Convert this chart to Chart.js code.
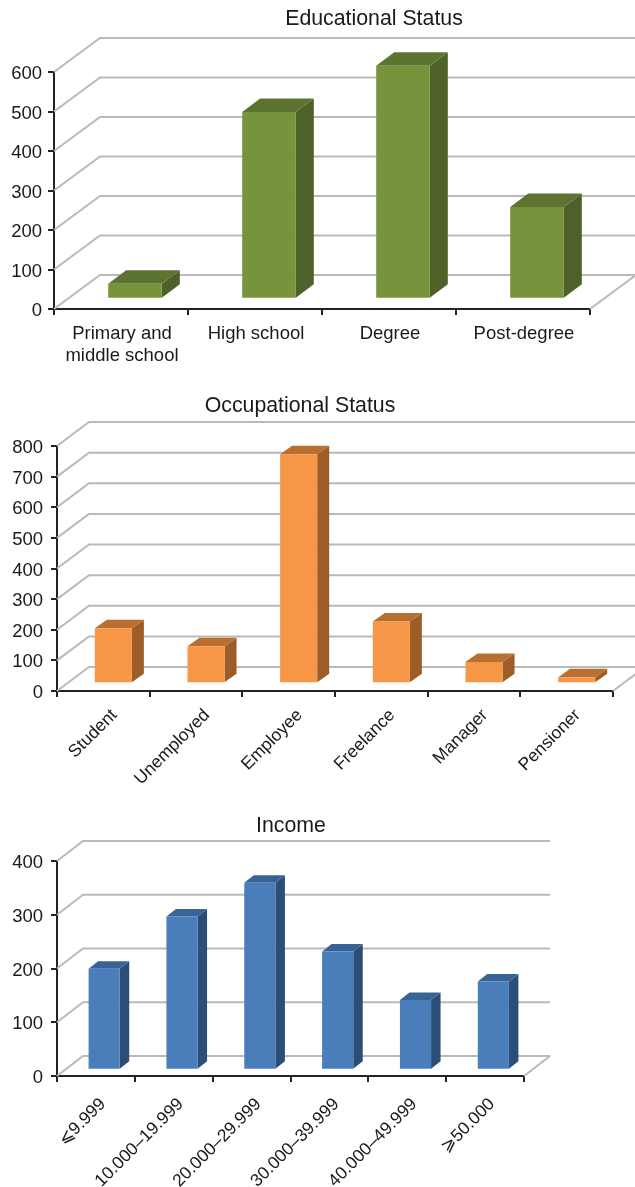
<!DOCTYPE html>
<html>
<head>
<meta charset="utf-8">
<title>Educational status, occupational status and income</title>
<script src="https://cdn.jsdelivr.net/npm/chart.js@4/dist/chart.umd.js"></script>
<style>
  html, body { margin: 0; padding: 0; background: #fff; overflow: hidden; }
  canvas { display: block; }
</style>
</head>
<body>
<canvas id="education" width="635" height="385"></canvas>
<canvas id="occupation" width="635" height="415"></canvas>
<canvas id="income" width="635" height="387"></canvas>
<script>
const educationLabels = [['Primary and', 'middle school'], 'High school', 'Degree', 'Post-degree'];
const educationValues = [38, 473, 590, 232];

const occupationLabels = ['Student', 'Unemployed', 'Employee', 'Freelance', 'Manager', 'Pensioner'];
const occupationValues = [180, 121, 748, 202, 69, 20];

const incomeLabels = ['⩽9.999', '10.000–19.999', '20.000–29.999', '30.000–39.999', '40.000–49.999', '⩾50.000'];
const incomeValues = [188, 285, 348, 220, 130, 164];

const FONT = '"Liberation Sans", Arial, sans-serif';
const AXIS = '#222222';
const GRID = '#b9b9b9';

// fake 3D: back wall, side wall and floor lines, then the depth faces of each bar
const depthPlugin = {
  id: 'depth',
  beforeDatasetsDraw(chart, args, o) {
    const { ctx, chartArea: a, scales: { y } } = chart;
    ctx.save();
    ctx.strokeStyle = GRID;
    ctx.lineWidth = 2;
    y.ticks.forEach((t, i) => {
      const py = y.getPixelForTick(i);
      ctx.beginPath();
      ctx.moveTo(a.left, py);
      ctx.lineTo(a.left + o.wallX, py - o.wallY);
      ctx.lineTo(a.right + o.wallX, py - o.wallY);
      ctx.stroke();
    });
    ctx.beginPath();
    ctx.moveTo(a.right, a.bottom);
    ctx.lineTo(a.right + o.wallX, a.bottom - o.wallY);
    ctx.stroke();

    // bars stand in the middle of the floor
    ctx.translate((o.wallX - o.barX) / 2, -(o.wallY - o.barY) / 2);
    chart.getDatasetMeta(0).data.forEach(bar => {
      const l = bar.x - bar.width / 2, r = bar.x + bar.width / 2;
      ctx.fillStyle = o.sideFace;
      ctx.beginPath();
      ctx.moveTo(r, bar.y);
      ctx.lineTo(r + o.barX, bar.y - o.barY);
      ctx.lineTo(r + o.barX, bar.base - o.barY);
      ctx.lineTo(r, bar.base);
      ctx.closePath();
      ctx.fill();
      ctx.fillStyle = o.topFace;
      ctx.beginPath();
      ctx.moveTo(l, bar.y);
      ctx.lineTo(l + o.barX, bar.y - o.barY);
      ctx.lineTo(r + o.barX, bar.y - o.barY);
      ctx.lineTo(r, bar.y);
      ctx.closePath();
      ctx.fill();
    });
  },
  afterDatasetsDraw(chart) {
    chart.ctx.restore();
  },
  afterDraw(chart, args, o) {
    const { ctx } = chart;
    ctx.save();
    ctx.fillStyle = '#1a1a1a';
    ctx.font = '21.3px ' + FONT;
    ctx.textAlign = 'center';
    ctx.textBaseline = 'middle';
    ctx.fillText(o.title, o.titleX, o.titleY);
    ctx.restore();
  }
};

function bar3d(id, labels, values, cfg) {
  return new Chart(document.getElementById(id), {
    type: 'bar',
    plugins: [depthPlugin],
    data: {
      labels: labels,
      datasets: [{
        data: values,
        backgroundColor: cfg.frontFace,
        barPercentage: 0.4,
        categoryPercentage: 1,
        clip: false
      }]
    },
    options: {
      responsive: false,
      animation: false,
      layout: { padding: { top: cfg.top, right: 635 - cfg.right, left: 0, bottom: 0 } },
      plugins: {
        legend: { display: false },
        tooltip: { enabled: false },
        depth: cfg
      },
      scales: {
        x: {
          afterFit(s) { s.height = cfg.height - cfg.bottom; },
          grid: { drawOnChartArea: false, color: AXIS, lineWidth: 2, tickLength: 6 },
          border: { color: AXIS, width: 2 },
          ticks: {
            color: '#1a1a1a',
            font: { family: FONT, size: cfg.labelSize },
            autoSkip: false,
            maxRotation: cfg.rotate,
            minRotation: cfg.rotate,
            padding: cfg.labelPad,
            labelOffset: cfg.labelShift
          }
        },
        y: {
          min: 0,
          max: cfg.max,
          afterFit(s) { s.width = cfg.left; },
          grid: { drawOnChartArea: false, color: AXIS, lineWidth: 2, tickLength: 6 },
          border: { color: AXIS, width: 2 },
          ticks: {
            color: '#1a1a1a',
            font: { family: FONT, size: 18.5 },
            stepSize: cfg.step,
            padding: cfg.tickPad,
            labelOffset: 2
          }
        }
      }
    }
  });
}

bar3d('education', educationLabels, educationValues, {
  title: 'Educational Status', titleX: 374, titleY: 19,
  max: 600, step: 100, height: 385, left: 54, right: 590, top: 72, bottom: 309,
  wallX: 46, wallY: 34, barX: 18, barY: 13.5,
  rotate: 0, labelSize: 18.5, labelPad: 8, labelShift: 1, tickPad: 6,
  frontFace: '#77933c', topFace: '#5c7430', sideFace: '#4d6129'
});

bar3d('occupation', occupationLabels, occupationValues, {
  title: 'Occupational Status', titleX: 300, titleY: 21,
  max: 800, step: 100, height: 415, left: 57, right: 613, top: 61, bottom: 306,
  wallX: 32, wallY: 24, barX: 12, barY: 8.5,
  rotate: 45, labelSize: 17.5, labelPad: 8, labelShift: 11, tickPad: 8,
  frontFace: '#f79646', topFace: '#b96f2f', sideFace: '#9c5d28'
});

bar3d('income', incomeLabels, incomeValues, {
  title: 'Income', titleX: 291, titleY: 26,
  max: 400, step: 100, height: 387, left: 57, right: 524, top: 61, bottom: 276,
  wallX: 26, wallY: 20, barX: 9.5, barY: 7.5,
  rotate: 45, labelSize: 17.5, labelPad: 12, labelShift: 7, tickPad: 8,
  frontFace: '#4a7ebb', topFace: '#386397', sideFace: '#2c4d75'
});
</script>
</body>
</html>
